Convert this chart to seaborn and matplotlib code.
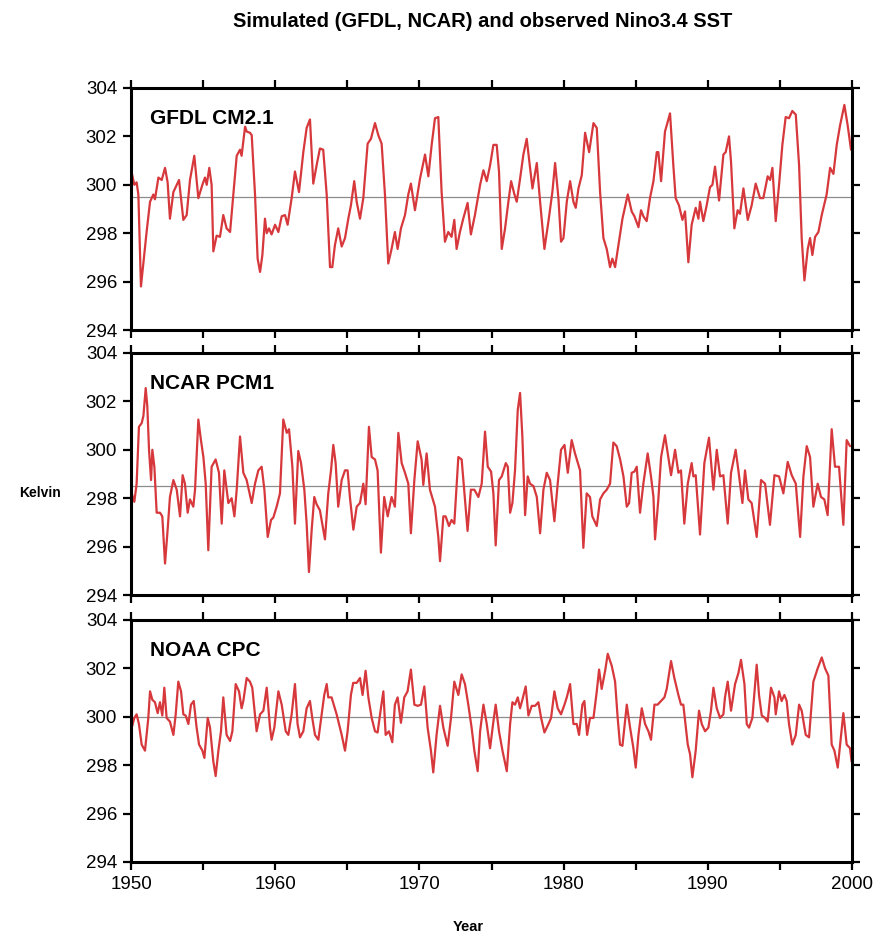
import numpy as np
import pandas as pd
import matplotlib
matplotlib.use("Agg")
import matplotlib.pyplot as plt
import seaborn as sns

# Nino3.4 SST values (decimal year, Kelvin)
gfdl_year = [1950.05, 1950.23, 1950.39, 1950.51, 1950.69, 1951.09, 1951.32, 1951.55, 1951.66, 1951.90,
             1952.13, 1952.36, 1952.54, 1952.70, 1952.94, 1953.17, 1953.33, 1953.63, 1953.86, 1954.09,
             1954.39, 1954.67, 1954.95, 1955.13, 1955.25, 1955.43, 1955.59, 1955.71, 1955.94, 1956.17,
             1956.40, 1956.63, 1956.87, 1957.10, 1957.33, 1957.56, 1957.67, 1957.91, 1958.02, 1958.25,
             1958.37, 1958.60, 1958.78, 1958.95, 1959.11, 1959.29, 1959.41, 1959.57, 1959.75, 1959.99,
             1960.22, 1960.45, 1960.68, 1960.86, 1961.14, 1961.37, 1961.65, 1961.95, 1962.18, 1962.41,
             1962.64, 1962.87, 1963.10, 1963.33, 1963.57, 1963.80, 1963.96, 1964.14, 1964.37, 1964.61,
             1964.84, 1965.07, 1965.25, 1965.48, 1965.65, 1965.88, 1966.11, 1966.41, 1966.64, 1966.92,
             1967.15, 1967.38, 1967.61, 1967.84, 1968.07, 1968.30, 1968.49, 1968.72, 1969.00, 1969.23,
             1969.41, 1969.69, 1970.04, 1970.39, 1970.62, 1970.85, 1971.08, 1971.31, 1971.54, 1971.77,
             1972.00, 1972.23, 1972.42, 1972.58, 1972.81, 1973.04, 1973.34, 1973.57, 1973.85, 1974.21,
             1974.44, 1974.67, 1974.90, 1975.13, 1975.36, 1975.52, 1975.71, 1975.94, 1976.17, 1976.36,
             1976.59, 1976.75, 1976.98, 1977.21, 1977.44, 1977.67, 1977.84, 1978.14, 1978.37, 1978.67,
             1978.95, 1979.22, 1979.41, 1979.64, 1979.82, 1979.99, 1980.22, 1980.45, 1980.68, 1980.84,
             1981.03, 1981.26, 1981.49, 1981.77, 1982.07, 1982.30, 1982.53, 1982.76, 1982.99, 1983.22,
             1983.38, 1983.57, 1983.80, 1984.08, 1984.45, 1984.72, 1984.91, 1985.19, 1985.37, 1985.53,
             1985.76, 1985.99, 1986.23, 1986.46, 1986.57, 1986.76, 1987.03, 1987.38, 1987.61, 1987.77,
             1988.00, 1988.24, 1988.42, 1988.65, 1988.88, 1989.16, 1989.35, 1989.46, 1989.69, 1989.92,
             1990.15, 1990.32, 1990.50, 1990.78, 1991.08, 1991.24, 1991.47, 1991.61, 1991.84, 1992.07,
             1992.23, 1992.47, 1992.77, 1993.04, 1993.32, 1993.62, 1993.85, 1994.15, 1994.32, 1994.48,
             1994.71, 1994.94, 1995.17, 1995.40, 1995.63, 1995.86, 1996.10, 1996.33, 1996.51, 1996.70,
             1996.93, 1997.09, 1997.25, 1997.44, 1997.67, 1997.90, 1998.24, 1998.48, 1998.71, 1998.94,
             1999.17, 1999.47, 1999.70, 1999.93]
gfdl_sst = [300.5, 300.0, 300.1, 299.6, 295.8, 298.1, 299.3, 299.6, 299.4, 300.3,
            300.2, 300.7, 300.1, 298.6, 299.7, 300.0, 300.2, 298.55, 298.75, 300.2,
            301.2, 299.45, 300.0, 300.3, 300.0, 300.7, 300.0, 297.25, 297.9, 297.85,
            298.75, 298.2, 298.05, 299.6, 301.2, 301.45, 301.2, 302.4, 302.2, 302.15,
            302.05, 299.6, 296.95, 296.4, 297.1, 298.6, 298.0, 298.2, 297.95, 298.35,
            298.05, 298.7, 298.75, 298.35, 299.45, 300.55, 299.7, 301.35, 302.35, 302.7,
            300.05, 300.8, 301.5, 301.45, 299.6, 296.6, 296.6, 297.5, 298.2, 297.45,
            297.8, 298.6, 299.15, 300.15, 299.3, 298.6, 299.45, 301.7, 301.9, 302.55,
            302.05, 301.7, 299.6, 296.75, 297.35, 298.05, 297.35, 298.2, 298.75, 299.6,
            300.05, 298.95, 300.25, 301.25, 300.35, 301.65, 302.75, 302.8, 299.7, 297.65,
            298.05, 297.85, 298.55, 297.35, 298.05, 298.6, 299.25, 297.95, 298.75, 300.0,
            300.6, 300.15, 300.8, 301.65, 301.65, 300.55, 297.35, 298.2, 299.3, 300.15,
            299.6, 299.3, 300.25, 301.25, 301.9, 300.7, 299.85, 300.9, 299.3, 297.35,
            298.5, 299.7, 300.9, 299.45, 297.65, 297.8, 299.3, 300.15, 299.3, 299.05,
            299.85, 300.4, 302.15, 301.35, 302.55, 302.35, 299.7, 297.8, 297.35, 296.6,
            296.95, 296.6, 297.5, 298.6, 299.6, 298.9, 298.7, 298.25, 298.95, 298.7,
            298.5, 299.45, 300.15, 301.35, 301.35, 300.15, 302.2, 302.95, 300.8, 299.45,
            299.15, 298.55, 298.9, 296.8, 298.35, 299.05, 298.6, 299.3, 298.5, 299.15,
            299.9, 300.0, 300.75, 299.35, 301.25, 301.35, 302.0, 300.95, 298.2, 298.95,
            298.8, 299.85, 298.55, 299.15, 300.05, 299.45, 299.45, 300.35, 300.2, 300.7,
            298.5, 300.0, 301.65, 302.8, 302.75, 303.05, 302.9, 300.8, 297.8, 296.05,
            297.35, 297.8, 297.1, 297.85, 298.05, 298.75, 299.6, 300.7, 300.45, 301.65,
            302.45, 303.3, 302.45, 301.45]

ncar_year = [1950.05, 1950.23, 1950.39, 1950.55, 1950.74, 1950.86, 1951.02, 1951.13, 1951.25, 1951.39,
             1951.48, 1951.62, 1951.78, 1952.01, 1952.17, 1952.36, 1952.54, 1952.70, 1952.94, 1953.17,
             1953.40, 1953.58, 1953.74, 1953.93, 1954.09, 1954.32, 1954.44, 1954.67, 1954.85, 1955.02,
             1955.18, 1955.36, 1955.59, 1955.87, 1956.10, 1956.29, 1956.47, 1956.75, 1956.98, 1957.17,
             1957.33, 1957.56, 1957.79, 1958.02, 1958.37, 1958.60, 1958.83, 1959.06, 1959.25, 1959.48,
             1959.71, 1959.87, 1960.10, 1960.33, 1960.56, 1960.80, 1960.96, 1961.19, 1961.37, 1961.60,
             1961.79, 1962.02, 1962.18, 1962.34, 1962.53, 1962.71, 1962.87, 1963.10, 1963.45, 1963.68,
             1963.87, 1964.03, 1964.19, 1964.37, 1964.61, 1964.84, 1965.02, 1965.18, 1965.42, 1965.65,
             1965.88, 1966.11, 1966.27, 1966.50, 1966.69, 1966.92, 1967.10, 1967.33, 1967.56, 1967.80,
             1968.07, 1968.30, 1968.54, 1968.77, 1969.00, 1969.23, 1969.41, 1969.65, 1969.88, 1970.15,
             1970.27, 1970.50, 1970.73, 1971.08, 1971.31, 1971.43, 1971.66, 1971.82, 1972.05, 1972.23,
             1972.42, 1972.70, 1972.93, 1973.16, 1973.34, 1973.57, 1973.81, 1974.09, 1974.32, 1974.55,
             1974.74, 1974.97, 1975.13, 1975.29, 1975.52, 1975.71, 1975.99, 1976.13, 1976.29, 1976.45,
             1976.63, 1976.82, 1976.98, 1977.14, 1977.33, 1977.51, 1977.67, 1977.91, 1978.14, 1978.37,
             1978.60, 1978.83, 1979.06, 1979.36, 1979.59, 1979.82, 1980.06, 1980.29, 1980.56, 1980.79,
             1981.14, 1981.37, 1981.60, 1981.83, 1981.99, 1982.30, 1982.53, 1982.76, 1982.99, 1983.22,
             1983.45, 1983.68, 1983.92, 1984.15, 1984.38, 1984.54, 1984.72, 1984.91, 1985.07, 1985.30,
             1985.53, 1985.83, 1986.06, 1986.23, 1986.34, 1986.57, 1986.76, 1987.03, 1987.26, 1987.45,
             1987.73, 1987.96, 1988.14, 1988.37, 1988.61, 1988.88, 1989.00, 1989.16, 1989.46, 1989.76,
             1990.08, 1990.39, 1990.62, 1990.85, 1991.08, 1991.38, 1991.61, 1991.93, 1992.12, 1992.40,
             1992.58, 1992.81, 1993.04, 1993.39, 1993.69, 1993.97, 1994.31, 1994.62, 1994.94, 1995.24,
             1995.54, 1995.82, 1996.10, 1996.40, 1996.63, 1996.86, 1997.09, 1997.32, 1997.62, 1997.85,
             1998.08, 1998.31, 1998.59, 1998.82, 1999.10, 1999.40, 1999.63, 1999.86]
ncar_sst = [298.2, 297.85, 298.6, 300.95, 301.1, 301.4, 302.55, 301.8, 300.0, 298.75,
            300.0, 299.3, 297.4, 297.4, 297.25, 295.3, 296.7, 298.05, 298.75, 298.35,
            297.25, 298.95, 298.6, 297.4, 297.95, 297.65, 298.35, 301.25, 300.4, 299.7,
            298.6, 295.85, 299.3, 299.6, 299.05, 296.95, 299.15, 297.8, 298.0, 297.25,
            298.35, 300.55, 299.05, 298.75, 297.8, 298.6, 299.15, 299.3, 298.35, 296.4,
            297.1, 297.2, 297.65, 298.2, 301.25, 300.7, 300.85, 299.3, 296.95, 299.95,
            299.45, 298.35, 296.95, 294.95, 296.7, 298.05, 297.75, 297.5, 296.3, 298.2,
            299.15, 300.2, 299.45, 297.65, 298.75, 299.15, 299.15, 298.05, 296.7, 297.65,
            297.8, 298.6, 297.75, 300.95, 299.7, 299.6, 299.15, 295.75, 298.05, 297.25,
            298.05, 297.65, 300.7, 299.45, 299.05, 298.6, 296.55, 298.75, 300.35, 299.6,
            298.55, 299.85, 298.35, 297.65, 296.4, 295.4, 297.25, 297.25, 296.85, 297.1,
            296.95, 299.7, 299.6, 297.95, 296.65, 298.35, 298.35, 298.05, 298.6, 300.75,
            299.3, 299.1, 298.2, 296.05, 298.75, 298.9, 299.45, 299.3, 297.4, 297.8,
            299.15, 301.65, 302.35, 300.55, 297.3, 298.9, 298.6, 298.5, 298.05, 296.55,
            298.35, 299.05, 298.75, 297.05, 298.6, 300.0, 300.2, 299.05, 300.4, 299.85,
            299.15, 295.95, 298.2, 298.05, 297.25, 296.85, 297.95, 298.2, 298.35, 298.6,
            300.3, 300.15, 299.6, 298.9, 297.65, 297.8, 299.05, 299.1, 299.3, 297.4,
            298.6, 299.85, 298.9, 298.05, 296.3, 297.95, 299.7, 300.6, 299.7, 298.95,
            300.0, 299.05, 299.15, 296.95, 298.6, 299.45, 298.9, 298.95, 296.5, 299.45,
            300.5, 298.35, 300.0, 298.9, 298.95, 296.95, 299.05, 300.0, 299.15, 297.8,
            299.15, 297.95, 297.8, 296.4, 298.75, 298.6, 296.9, 298.95, 298.9, 298.2,
            299.5, 298.95, 298.6, 296.4, 298.9, 300.15, 299.7, 297.65, 298.6, 298.05,
            297.95, 297.3, 300.85, 299.3, 299.3, 296.9, 300.4, 300.15]

noaa_year = [1950.05, 1950.23, 1950.39, 1950.55, 1950.74, 1950.97, 1951.20, 1951.32, 1951.48, 1951.66,
             1951.85, 1952.01, 1952.17, 1952.31, 1952.47, 1952.70, 1952.94, 1953.10, 1953.28, 1953.47,
             1953.63, 1953.79, 1953.98, 1954.16, 1954.35, 1954.55, 1954.72, 1954.95, 1955.09, 1955.32,
             1955.48, 1955.71, 1955.87, 1956.06, 1956.24, 1956.40, 1956.63, 1956.87, 1957.03, 1957.26,
             1957.49, 1957.67, 1957.79, 1958.02, 1958.25, 1958.41, 1958.71, 1958.95, 1959.18, 1959.41,
             1959.64, 1959.75, 1959.94, 1960.22, 1960.45, 1960.73, 1960.91, 1961.14, 1961.37, 1961.55,
             1961.72, 1961.95, 1962.18, 1962.41, 1962.57, 1962.76, 1962.99, 1963.22, 1963.40, 1963.57,
             1963.68, 1963.91, 1964.26, 1964.61, 1964.84, 1965.02, 1965.25, 1965.41, 1965.65, 1965.88,
             1966.06, 1966.27, 1966.46, 1966.69, 1966.92, 1967.10, 1967.33, 1967.50, 1967.66, 1967.89,
             1968.12, 1968.30, 1968.49, 1968.72, 1968.95, 1969.18, 1969.41, 1969.65, 1969.88, 1970.11,
             1970.34, 1970.57, 1970.80, 1970.96, 1971.19, 1971.43, 1971.66, 1971.96, 1972.19, 1972.42,
             1972.70, 1972.93, 1973.16, 1973.39, 1973.62, 1973.81, 1974.04, 1974.21, 1974.44, 1974.67,
             1974.90, 1975.13, 1975.29, 1975.52, 1975.76, 1976.06, 1976.29, 1976.45, 1976.63, 1976.82,
             1976.98, 1977.14, 1977.37, 1977.56, 1977.79, 1978.02, 1978.25, 1978.44, 1978.67, 1978.95,
             1979.13, 1979.36, 1979.59, 1979.82, 1980.06, 1980.22, 1980.45, 1980.68, 1980.91, 1981.07,
             1981.30, 1981.44, 1981.63, 1981.83, 1982.07, 1982.30, 1982.46, 1982.64, 1982.88, 1983.06,
             1983.34, 1983.57, 1983.75, 1983.91, 1984.08, 1984.38, 1984.61, 1984.84, 1985.00, 1985.19,
             1985.42, 1985.65, 1985.88, 1986.06, 1986.30, 1986.52, 1986.76, 1986.99, 1987.15, 1987.45,
             1987.68, 1987.96, 1988.14, 1988.30, 1988.61, 1988.77, 1988.93, 1989.16, 1989.39, 1989.58,
             1989.81, 1990.04, 1990.22, 1990.39, 1990.62, 1990.85, 1991.08, 1991.19, 1991.38, 1991.61,
             1991.89, 1992.12, 1992.30, 1992.54, 1992.70, 1992.86, 1993.09, 1993.39, 1993.55, 1993.74,
             1993.97, 1994.15, 1994.38, 1994.62, 1994.71, 1994.94, 1995.12, 1995.31, 1995.47, 1995.63,
             1995.86, 1996.10, 1996.33, 1996.51, 1996.79, 1997.02, 1997.32, 1997.62, 1997.90, 1998.13,
             1998.36, 1998.59, 1998.78, 1999.01, 1999.24, 1999.40, 1999.63, 1999.86, 1999.97]
noaa_sst = [299.55, 299.95, 300.1, 299.7, 298.85, 298.6, 299.95, 301.05, 300.7, 300.6,
            300.15, 300.6, 300.05, 301.2, 299.95, 299.8, 299.25, 300.1, 301.45, 301.05,
            300.1, 300.05, 299.7, 300.5, 300.65, 299.55, 298.85, 298.6, 298.3, 299.95,
            299.55, 298.15, 297.55, 298.6, 299.4, 300.8, 299.25, 299.0, 299.4, 301.35,
            301.05, 300.35, 300.65, 301.6, 301.45, 301.2, 299.4, 300.1, 300.25, 301.2,
            299.55, 299.05, 299.55, 301.05, 300.5, 299.4, 299.25, 300.1, 301.35, 299.7,
            299.15, 299.4, 300.35, 300.65, 299.95, 299.25, 299.05, 300.1, 300.9, 301.35,
            300.8, 300.8, 300.1, 299.25, 298.6, 299.4, 300.9, 301.4, 301.4, 301.6,
            300.9, 301.9, 300.8, 299.95, 299.4, 299.35, 300.35, 301.05, 299.25, 299.4,
            298.95, 300.5, 300.8, 299.75, 300.8, 301.05, 301.95, 300.5, 300.45, 300.5,
            301.25, 299.55, 298.6, 297.7, 299.25, 300.45, 299.55, 298.8, 299.95, 301.45,
            300.9, 301.75, 301.35, 300.5, 299.55, 298.6, 297.75, 299.4, 300.5, 299.7,
            298.7, 299.8, 300.5, 299.4, 298.6, 297.75, 299.7, 300.6, 300.5, 300.8,
            300.35, 300.7, 301.25, 300.05, 300.45, 300.45, 300.6, 299.95, 299.35, 299.7,
            299.95, 301.05, 300.35, 300.1, 300.5, 300.8, 301.35, 299.7, 299.7, 299.25,
            300.5, 300.65, 299.25, 299.95, 299.95, 301.05, 301.95, 301.15, 301.9, 302.6,
            302.1, 301.45, 299.95, 298.85, 298.8, 300.5, 299.55, 298.7, 297.9, 299.25,
            300.35, 299.7, 299.4, 299.05, 300.5, 300.5, 300.65, 300.8, 301.15, 302.3,
            301.6, 300.9, 300.5, 300.5, 298.85, 298.45, 297.5, 298.6, 300.25, 299.7,
            299.4, 299.55, 300.25, 301.2, 300.35, 299.95, 300.1, 300.8, 301.45, 300.25,
            301.35, 301.8, 302.35, 301.35, 299.7, 299.55, 299.95, 302.15, 300.9, 300.05,
            299.95, 299.8, 301.2, 300.8, 300.1, 301.05, 300.65, 300.9, 300.65, 299.7,
            298.85, 299.25, 300.5, 300.25, 299.25, 299.15, 301.45, 302.0, 302.45, 302.0,
            301.7, 298.85, 298.6, 297.9, 299.25, 300.15, 298.85, 298.7, 298.15]

panel_names = ["GFDL CM2.1", "NCAR PCM1", "NOAA CPC"]
panel_means = [299.5, 298.5, 300.0]
year_ticks = [1950, 1960, 1970, 1980, 1990, 2000]
kelvin_ticks = [294, 296, 298, 300, 302, 304]

series = [(gfdl_year, gfdl_sst), (ncar_year, ncar_sst), (noaa_year, noaa_sst)]

sns.set_style("ticks")
plt.rcParams['font.family'] = ['Liberation Sans', 'DejaVu Sans']
plt.rcParams['text.color'] = 'black'
plt.rcParams['xtick.color'] = 'black'
plt.rcParams['ytick.color'] = 'black'
plt.rcParams['axes.labelcolor'] = 'black'

fig = plt.figure(figsize=(8.81, 9.40), dpi=100)
# axes boxes in figure coords: [left, bottom, width, height]
boxes = [[0.1487, 0.6489, 0.8184, 0.2575],
         [0.1487, 0.3670, 0.8184, 0.2575],
         [0.1487, 0.0830, 0.8184, 0.2575]]

line_color = '#d6383c'

for i, (yrs, sst) in enumerate(series):
    ax = fig.add_axes(boxes[i])
    df = pd.DataFrame({'year': yrs, 'sst': sst})
    ax.axhline(panel_means[i], color='#8c8c8c', linewidth=0.9, zorder=1)
    sns.lineplot(data=df, x='year', y='sst', ax=ax, color=line_color,
                 linewidth=1.6, estimator=None, sort=False, zorder=2)
    ax.set_xlim(1950, 2000)
    ax.set_ylim(294, 304)
    ax.set_xticks(np.arange(1950, 2001, 5))
    if i == 2:
        ax.set_xticklabels([str(t) if t in year_ticks else '' for t in range(1950, 2001, 5)])
    else:
        ax.set_xticklabels([])
    ax.set_yticks(kelvin_ticks)
    ax.set_yticklabels([str(t) for t in kelvin_ticks])
    ax.tick_params(axis='both', direction='out', length=6, width=1.6,
                   labelsize=13.5, top=True, right=True, pad=4)
    ax.set_xlabel('')
    ax.set_ylabel('')
    for sp in ax.spines.values():
        sp.set_linewidth(2.2)
        sp.set_color('black')
    ax.text(0.026, 0.875, panel_names[i], transform=ax.transAxes,
            fontsize=15, fontweight='bold', va='center', ha='left')

fig.text(0.548, 0.977, 'Simulated (GFDL, NCAR) and observed Nino3.4 SST',
         ha='center', va='center', fontsize=14.5, fontweight='bold')
fig.text(0.045, 0.4755, 'Kelvin', ha='center', va='center', fontsize=10, fontweight='bold')
fig.text(0.531, 0.0138, 'Year', ha='center', va='center', fontsize=10.5, fontweight='bold')

fig.savefig('out.png', dpi=100)
